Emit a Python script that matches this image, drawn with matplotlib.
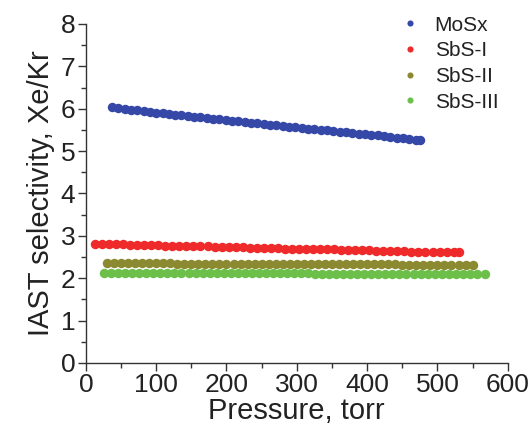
import matplotlib
matplotlib.use("Agg")
import matplotlib.pyplot as plt
from matplotlib.ticker import MultipleLocator

# series data (pressure in torr, IAST selectivity Xe/Kr)
mosx_p = [37, 46, 55, 64, 73, 82, 91, 100, 109, 118,
          127, 136, 145, 154, 163, 172, 181, 190, 199, 208,
          217, 226, 235, 244, 253, 262, 271, 280, 289, 298,
          307, 316, 325, 334, 343, 352, 361, 370, 379, 388,
          397, 406, 415, 424, 433, 442, 451, 460, 469, 475]
mosx_s = [6.03, 6.01, 5.99, 5.98, 5.96, 5.94, 5.93, 5.91, 5.89, 5.88,
          5.86, 5.84, 5.83, 5.81, 5.80, 5.78, 5.76, 5.75, 5.73, 5.72,
          5.70, 5.69, 5.67, 5.66, 5.64, 5.62, 5.61, 5.59, 5.58, 5.56,
          5.55, 5.53, 5.52, 5.50, 5.49, 5.47, 5.46, 5.44, 5.43, 5.41,
          5.40, 5.38, 5.37, 5.35, 5.34, 5.32, 5.31, 5.29, 5.27, 5.25]

sbs1_p = [13, 23, 33, 43, 53, 63, 73, 83, 93, 103,
          113, 123, 133, 143, 153, 163, 173, 183, 193, 203,
          213, 223, 233, 243, 253, 263, 273, 283, 293, 303,
          313, 323, 333, 343, 353, 363, 373, 383, 393, 403,
          413, 423, 433, 443, 453, 463, 473, 483, 493, 503,
          513, 523, 531]
sbs1_s = [2.81, 2.81, 2.80, 2.80, 2.80, 2.79, 2.79, 2.78, 2.78, 2.78,
          2.77, 2.77, 2.76, 2.76, 2.76, 2.75, 2.75, 2.74, 2.74, 2.74,
          2.73, 2.73, 2.72, 2.72, 2.72, 2.71, 2.71, 2.70, 2.70, 2.70,
          2.69, 2.69, 2.68, 2.68, 2.68, 2.67, 2.67, 2.66, 2.66, 2.66,
          2.65, 2.65, 2.64, 2.64, 2.64, 2.63, 2.63, 2.62, 2.62, 2.62,
          2.61, 2.61, 2.61]

sbs2_p = [30, 40, 50, 60, 70, 80, 90, 100, 110, 120,
          130, 140, 150, 160, 170, 180, 190, 200, 210, 220,
          230, 240, 250, 260, 270, 280, 290, 300, 310, 320,
          330, 340, 350, 360, 370, 380, 390, 400, 410, 420,
          430, 440, 450, 460, 470, 480, 490, 500, 510, 520,
          530, 540, 550]
sbs2_s = [2.35, 2.35, 2.35, 2.35, 2.35, 2.35, 2.35, 2.35, 2.35, 2.35,
          2.34, 2.34, 2.34, 2.34, 2.34, 2.34, 2.34, 2.34, 2.34, 2.34,
          2.34, 2.34, 2.34, 2.34, 2.34, 2.34, 2.33, 2.33, 2.33, 2.33,
          2.33, 2.33, 2.33, 2.33, 2.33, 2.33, 2.33, 2.33, 2.33, 2.33,
          2.33, 2.33, 2.32, 2.32, 2.32, 2.32, 2.32, 2.32, 2.32, 2.32,
          2.32, 2.32, 2.32]

sbs3_p = [26, 36, 46, 56, 66, 76, 86, 96, 106, 116,
          126, 136, 146, 156, 166, 176, 186, 196, 206, 216,
          226, 236, 246, 256, 266, 276, 286, 296, 306, 316,
          326, 336, 346, 356, 366, 376, 386, 396, 406, 416,
          426, 436, 446, 456, 466, 476, 486, 496, 506, 516,
          526, 536, 546, 556, 568]
sbs3_s = [2.13, 2.13, 2.13, 2.13, 2.13, 2.13, 2.13, 2.13, 2.13, 2.13,
          2.13, 2.13, 2.12, 2.12, 2.12, 2.12, 2.12, 2.12, 2.12, 2.12,
          2.12, 2.12, 2.12, 2.12, 2.12, 2.12, 2.12, 2.12, 2.12, 2.12,
          2.11, 2.11, 2.11, 2.11, 2.11, 2.11, 2.11, 2.11, 2.11, 2.11,
          2.11, 2.11, 2.11, 2.11, 2.11, 2.10, 2.10, 2.10, 2.10, 2.10,
          2.10, 2.10, 2.10, 2.10, 2.10]

labels = ["MoSx", "SbS-I", "SbS-II", "SbS-III"]
colors = ["#3548a8", "#ee2a2a", "#8c8a30", "#6cc04a"]

plt.rcParams['font.family'] = ['Liberation Sans', 'DejaVu Sans']
txt = "#222222"

fig = plt.figure(figsize=(5.30, 4.28), dpi=100)
ax = fig.add_axes([0.162, 0.152, 0.796, 0.792])

series = [(mosx_p, mosx_s), (sbs1_p, sbs1_s), (sbs2_p, sbs2_s), (sbs3_p, sbs3_s)]
for (p, s), lab, c in zip(series, labels, colors):
    ax.plot(p, s, linestyle="none", marker="o", markersize=6.8,
            color=c, markeredgewidth=0, label=lab)

ax.set_xlim(0, 600)
ax.set_ylim(0, 8)
ax.xaxis.set_major_locator(MultipleLocator(100))
ax.xaxis.set_minor_locator(MultipleLocator(50))
ax.yaxis.set_major_locator(MultipleLocator(1))
ax.yaxis.set_minor_locator(MultipleLocator(0.5))

for side in ["top", "right"]:
    ax.spines[side].set_visible(False)
for side in ["left", "bottom"]:
    ax.spines[side].set_color("#333333")
    ax.spines[side].set_linewidth(1.0)

ax.tick_params(which="major", direction="out", length=6, width=1,
               colors="#333333", labelsize=19, labelcolor=txt, pad=1.5)
ax.tick_params(which="minor", direction="out", length=3.5, width=1, colors="#333333")

ax.set_xlabel("Pressure, torr", fontsize=21, color=txt, labelpad=0)
ax.set_ylabel("IAST selectivity, Xe/Kr", fontsize=21, color=txt, labelpad=4)

ax.legend(loc="upper right", bbox_to_anchor=(1.022, 1.08), frameon=False,
          fontsize=15, markerscale=0.65, handletextpad=0.2,
          labelspacing=0.32, labelcolor=txt)

fig.savefig("out.png", dpi=100)
